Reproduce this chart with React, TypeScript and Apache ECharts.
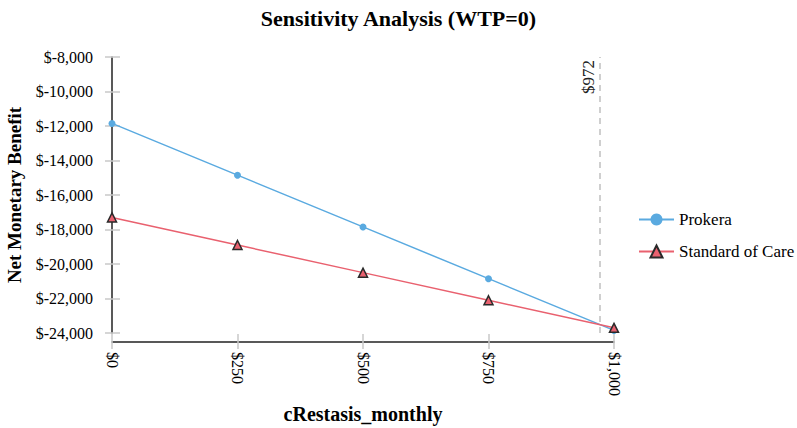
import React, { useEffect, useRef } from "react";
import * as echarts from "echarts";

const costs = [0, 250, 500, 750, 1000];
const prokera = [-11850, -14850, -17850, -20850, -23850];
const standardOfCare = [-17300, -18900, -20500, -22100, -23700];
const thresholdValue = 972;
const yMin = -24000;
const yMax = -8000;
const yStep = 2000;
const xStep = 250;

const FONT = "Liberation Serif";
const fmt = (v: number) => "$" + v.toLocaleString("en-US");

export default function App() {
  const ref = useRef<HTMLDivElement>(null);
  useEffect(() => {
    if (!ref.current) return;
    const chart = echarts.init(ref.current, null, { renderer: "svg" });
    const tickColor = "#c8c8c8";
    chart.setOption({
      animation: false,
      backgroundColor: "#fff",
      textStyle: { fontFamily: FONT },
      title: {
        text: "Sensitivity Analysis (WTP=0)",
        left: "center",
        top: 2,
        textStyle: { fontFamily: FONT, fontSize: 22, fontWeight: "bold", color: "#000" },
      },
      legend: {
        orient: "vertical",
        left: 633,
        top: 206,
        itemWidth: 35,
        itemHeight: 15,
        itemGap: 15,
        textStyle: { fontFamily: FONT, fontSize: 17, color: "#000" },
        data: ["Prokera", "Standard of Care"],
      },
      grid: { left: 112, right: 183, top: 57, bottom: 95, outerBoundsMode: "none", containLabel: false },
      xAxis: [
        {
          type: "value",
          min: 0,
          max: 1000,
          interval: xStep,
          offset: 9,
          position: "bottom",
          name: "cRestasis_monthly",
          nameLocation: "middle",
          nameGap: 62,
          nameTextStyle: { fontFamily: FONT, fontSize: 20, fontWeight: "bold", color: "#000" },
          splitLine: { show: false },
          axisLine: { show: true, lineStyle: { color: "#222", width: 1.5 } },
          axisTick: { show: true, length: 7, lineStyle: { color: tickColor, width: 1.5 } },
          axisLabel: {
            rotate: -90,
            margin: 10,
            fontFamily: FONT,
            fontSize: 16,
            color: "#000",
            formatter: fmt,
          },
        },
        {
          type: "value",
          min: 0,
          max: 1000,
          interval: xStep,
          offset: 9,
          position: "bottom",
          splitLine: { show: false },
          axisLine: { show: false },
          axisTick: { show: true, inside: true, length: 8, lineStyle: { color: tickColor, width: 1.5 } },
          axisLabel: { show: false },
        },
      ],
      yAxis: [
        {
          type: "value",
          min: yMin,
          max: yMax,
          interval: yStep,
          offset: 8,
          position: "left",
          name: "Net Monetary Benefit",
          nameLocation: "middle",
          nameGap: 80,
          nameTextStyle: { fontFamily: FONT, fontSize: 19, fontWeight: "bold", color: "#000" },
          splitLine: { show: false },
          axisLine: { show: true, lineStyle: { color: "#222", width: 1.5 } },
          axisTick: { show: true, length: 7, lineStyle: { color: tickColor, width: 1.5 } },
          axisLabel: { margin: 11, fontFamily: FONT, fontSize: 16, color: "#000", formatter: fmt },
        },
        {
          type: "value",
          min: yMin,
          max: yMax,
          interval: yStep,
          offset: 8,
          position: "left",
          splitLine: { show: false },
          axisLine: { show: false },
          axisTick: { show: true, inside: true, length: 8, lineStyle: { color: tickColor, width: 1.5 } },
          axisLabel: { show: false },
        },
      ],
      series: [
        {
          name: "Prokera",
          type: "line",
          data: costs.map((c, i) => [c, prokera[i]]),
          symbol: "circle",
          symbolSize: 7,
          color: "#5aaae0",
          lineStyle: { width: 1.5, color: "#5aaae0" },
          itemStyle: { color: "#5aaae0" },
          z: 2,
          markLine: {
            silent: true,
            symbol: "none",
            lineStyle: { type: [6, 5], color: "#c0c0c0", width: 1.5 },
            label: {
              show: true,
              position: "insideEndTop",
              formatter: fmt(thresholdValue),
              fontFamily: FONT,
              fontSize: 17,
              color: "#222",
              distance: 3,
            },
            data: [{ xAxis: thresholdValue }],
          },
        },
        {
          name: "Standard of Care",
          type: "line",
          data: costs.map((c, i) => [c, standardOfCare[i]]),
          symbol: "triangle",
          symbolSize: 9,
          color: "#e9616f",
          lineStyle: { width: 1.5, color: "#e9616f" },
          itemStyle: { color: "#e9616f", borderColor: "#2a2a2a", borderWidth: 1.5 },
          z: 3,
        },
      ],
    });
    return () => chart.dispose();
  }, []);
  return <div ref={ref} style={{ width: 797, height: 428, position: "fixed", left: 0, top: 0 }} />;
}
